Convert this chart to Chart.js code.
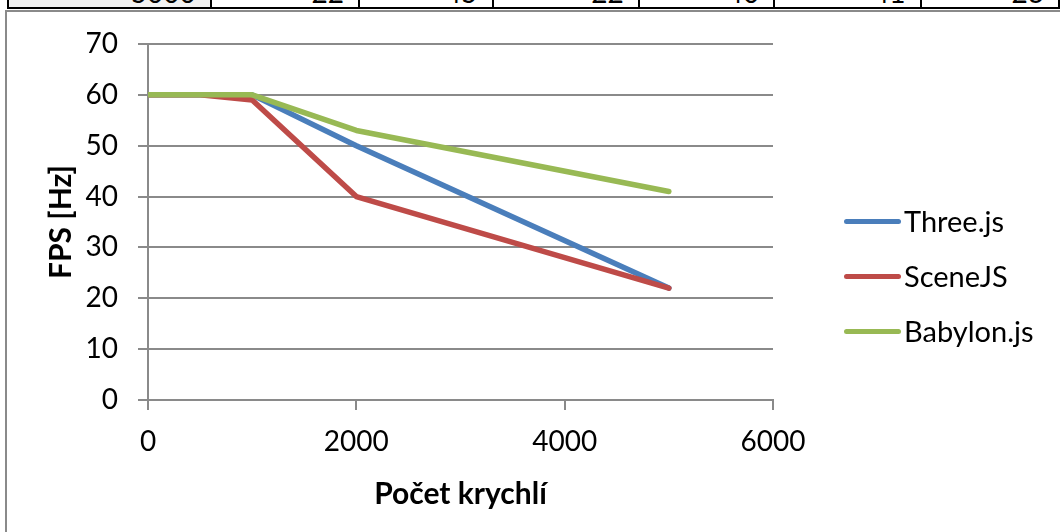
<!DOCTYPE html>
<html>
<head>
<meta charset="utf-8">
<script src="https://cdn.jsdelivr.net/npm/chart.js@4"></script>
<style>
  html,body{margin:0;padding:0;width:1060px;height:532px;overflow:hidden;background:#fff;}
  #tbl{position:absolute;left:7px;top:-33px;border-collapse:collapse;font-family:Lato,sans-serif;font-size:28px;}
  #tbl td{border:2px solid #000;height:38px;padding:0 14px 0 0;text-align:right;vertical-align:bottom;line-height:30px;}
  #frame{position:absolute;left:5px;top:10px;width:1100px;height:600px;border:2px solid #8a8a8a;box-sizing:border-box;}
  #wrap{position:absolute;left:0;top:0;width:1060px;height:532px;}
  #legend{position:absolute;left:844px;top:0;font-family:Lato,sans-serif;font-size:29px;color:#000;}
  .li{position:absolute;left:0;white-space:nowrap;height:30px;}
  .ln{position:absolute;left:0;top:13px;width:57px;height:5px;border-radius:3px;}
  .lt{position:absolute;left:60px;top:0;line-height:30px;}
</style>
</head>
<body>
<table id="tbl"><tr id="row"></tr></table>
<div id="frame"></div>
<div id="wrap"><canvas id="c" width="1060" height="532"></canvas></div>
<div id="legend"></div>
<script>
// ---- data ----
const tableRow = ['5000', '22', '45', '22', '40', '41', '23'];
const tableWidths = [205, 150, 135, 148, 137, 148, 140];
const cubes = [0, 500, 1000, 2000, 5000];
const threeJs = [60, 60, 60, 50, 22];
const sceneJs = [60, 60, 59, 40, 22];
const babylonJs = [60, 60, 60, 53, 41];
const seriesNames = ['Three.js', 'SceneJS', 'Babylon.js'];
const seriesColors = ['#4a7ebb', '#be4b48', '#98b954'];
const xTicks = [0, 2000, 4000, 6000];
const yTicks = [0, 10, 20, 30, 40, 50, 60, 70];

// ---- table strip ----
const row = document.getElementById('row');
tableRow.forEach((t, i) => {
  const td = document.createElement('td');
  td.textContent = t;
  td.style.width = (tableWidths[i] - 16) + 'px';
  if (i === 0) td.style.background = '#f2f2f2';
  row.appendChild(td);
});

// ---- chart ----
const seriesValues = [threeJs, sceneJs, babylonJs];
const datasets = seriesNames.map((n, i) => ({
  label: n,
  data: cubes.map((x, j) => ({x: x, y: seriesValues[i][j]})),
  borderColor: seriesColors[i],
  backgroundColor: seriesColors[i],
  borderWidth: 5.5,
  pointRadius: 0,
  borderCapStyle: 'round',
  borderJoinStyle: 'round',
  tension: 0,
  fill: false,
  order: seriesNames.length - i   // later series drawn on top, as in the original
}));

const gridColor = '#8a8a8a';
const font = {family: 'Lato', size: 28};
const boldFont = {family: 'Lato', size: 30, weight: 'bold'};

new Chart(document.getElementById('c'), {
  type: 'line',
  data: {datasets: datasets},
  options: {
    responsive: false,
    animation: false,
    layout: {padding: {left: 0, top: 44, right: 287, bottom: 0}},
    plugins: {legend: {display: false}, tooltip: {enabled: false}},
    scales: {
      x: {
        type: 'linear',
        min: xTicks[0], max: xTicks[xTicks.length - 1],
        afterBuildTicks: s => { s.ticks = xTicks.map(v => ({value: v})); },
        ticks: {color: '#000', font: font, padding: 15, maxRotation: 0, callback: v => String(v)},
        grid: {drawOnChartArea: false, drawTicks: true, tickLength: 10, color: gridColor, lineWidth: 2},
        border: {color: gridColor, width: 2},
        title: {display: true, text: 'Počet krychlí', color: '#000', font: boldFont, padding: {top: 0, bottom: 20}},
        afterFit: s => { s.height = 132; }
      },
      y: {
        min: yTicks[0], max: yTicks[yTicks.length - 1],
        afterBuildTicks: s => { s.ticks = yTicks.map(v => ({value: v})); },
        ticks: {color: '#000', font: font, padding: 20, callback: v => String(v)},
        grid: {color: gridColor, lineWidth: 2, tickLength: 10, drawTicks: true},
        border: {color: gridColor, width: 2},
        title: {display: true, text: 'FPS [Hz]', color: '#000', font: boldFont, padding: {top: 43, bottom: 0}},
        afterFit: s => { s.width = 148; }
      }
    }
  }
});

// ---- legend ----
const legend = document.getElementById('legend');
const legendY = [221, 276, 331];
seriesNames.forEach((n, i) => {
  const li = document.createElement('div');
  li.className = 'li';
  li.style.top = (legendY[i] - 15) + 'px';
  li.innerHTML = '<div class="ln" style="background:' + seriesColors[i] + '"></div><div class="lt"></div>';
  li.querySelector('.lt').textContent = n;
  legend.appendChild(li);
});
</script>
</body>
</html>
